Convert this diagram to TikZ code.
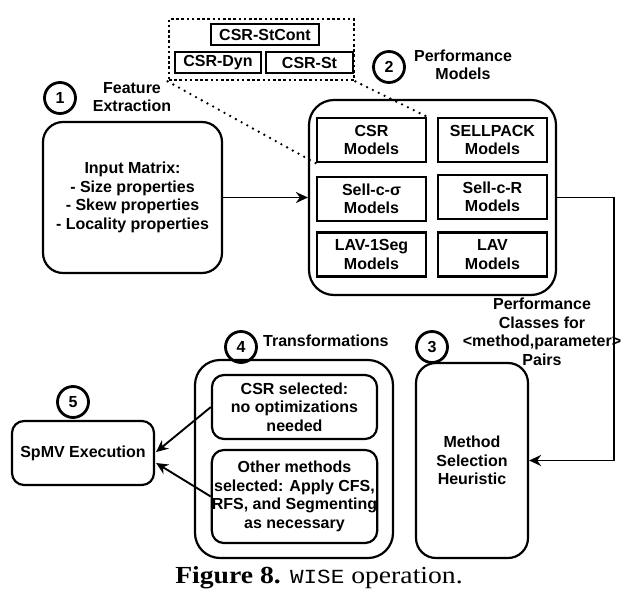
\documentclass[tikz,border=0pt]{standalone}
\usepackage{fontspec}
\setmainfont{Liberation Sans}
\newfontfamily\capserif{Liberation Serif}
\newfontfamily\capmono{Liberation Mono}
\usetikzlibrary{arrows.meta,calc}
\begin{document}
\begin{tikzpicture}[x=1pt,y=-1pt,
  base/.style={font=\fontsize{16}{18.5}\selectfont\bfseries, align=center, inner sep=0pt},
  rbox/.style={base, draw, line width=2.2pt, rounded corners=20pt},
  mbox/.style={base, draw, line width=2.4pt, minimum width=109pt, minimum height=44pt},
  sbox/.style={base, draw, line width=1.2pt, minimum height=21pt},
  num/.style={base, draw, circle, line width=2.8pt, minimum size=31pt},
  conn/.style={line width=1.9pt, -{Stealth[length=12pt,width=11pt]}},
  zoomline/.style={line width=2.6pt, dash pattern=on 0pt off 6.5pt, line cap=round}
]
\useasboundingbox (0,0) rectangle (626,605);

% feature extraction
\node[num] (c1) at (60,98) {1};
\node[base] (l1) at (132,97) {Feature\\Extraction};
\node[rbox, minimum width=179pt, minimum height=151pt] (in) at (132.5,197.5)
  {Input Matrix:\\- Size properties\\- Skew properties\\- Locality properties};

% performance models
\node[num] (c2) at (389,67) {2};
\node[base] (l2) at (463,65) {Performance\\Models};
\node[rbox, rounded corners=25pt, minimum width=247pt, minimum height=195pt] (perf) at (432.5,197.5) {};
\node[mbox] (csr) at (371.5,140) {CSR\\Models};
\node[mbox] (sellpack) at (492.5,140) {SELLPACK\\Models};
\node[mbox] (sellcs) at (371.5,199) {Sell-c-σ\\Models};
\node[mbox] (sellcr) at (492.5,197) {Sell-c-R\\Models};
\node[mbox] (lav1) at (371.5,254.5) {LAV-1Seg\\Models};
\node[mbox] (lav) at (492.5,254.5) {LAV\\Models};

% CSR variants call-out
\node[draw, line width=2.8pt, dash pattern=on 2.6pt off 2.6pt, minimum width=185pt, minimum height=61pt, inner sep=0pt] (dotbox) at (261.5,49.5) {};
\node[sbox, minimum width=108pt] (stcont) at (265,34.5) {CSR-StCont};
\node[sbox, minimum width=86pt] (dyn) at (218,62.5) {CSR-Dyn};
\node[sbox, minimum width=87pt] (st) at (309.5,62.5) {CSR-St};
\draw[zoomline] (dotbox.south west) -- (csr.south west);
\draw[zoomline] (dotbox.south east) -- (csr.north east);

% method selection
\node[num] (c3) at (432,347) {3};
\node[base] (l3) at (542,332) {Performance\\Classes for\\<method,parameter>\\Pairs};
\node[rbox, minimum width=112pt, minimum height=195pt] (msel) at (472,460.5) {Method\\Selection\\Heuristic};

% transformations
\node[num] (c4) at (241,347) {4};
\node[base, anchor=west] (l4) at (263,341) {Transformations};
\node[rbox, rounded corners=25pt, minimum width=198pt, minimum height=198pt] (trans) at (294,459) {};
\node[rbox, rounded corners=12pt, minimum width=165pt, minimum height=64pt] (t1) at (294.5,407)
  {CSR selected:\\no optimizations\\needed};
\node[rbox, rounded corners=12pt, minimum width=165pt, minimum height=93pt] (t2) at (294.5,496.5)
  {Other methods\\selected: Apply CFS,\\RFS, and Segmenting\\as necessary};

% execution
\node[num] (c5) at (73,402) {5};
\node[rbox, rounded corners=12pt, minimum width=142pt, minimum height=64pt] (spmv) at (83,453) {SpMV Execution};

% connectors
\draw[conn] (in.east) -- (perf.west);
\coordinate (turn) at (614,197.5);
\draw[conn] (perf.east) -- (turn) |- (msel.east);
\draw[conn] (t1.west) -- ($(spmv.east)+(1,-1)$);
\draw[conn] (t2.west) -- ($(spmv.east)+(1,10)$);

% caption
\node[inner sep=0pt, anchor=base] (cap) at (319,583)
  {\scalebox{1.13}[1]{\fontsize{24.5}{28}\selectfont\capserif\textbf{Figure 8.} {\capmono\fontsize{20}{28}\selectfont WISE} operation.}};
\end{tikzpicture}
\end{document}
